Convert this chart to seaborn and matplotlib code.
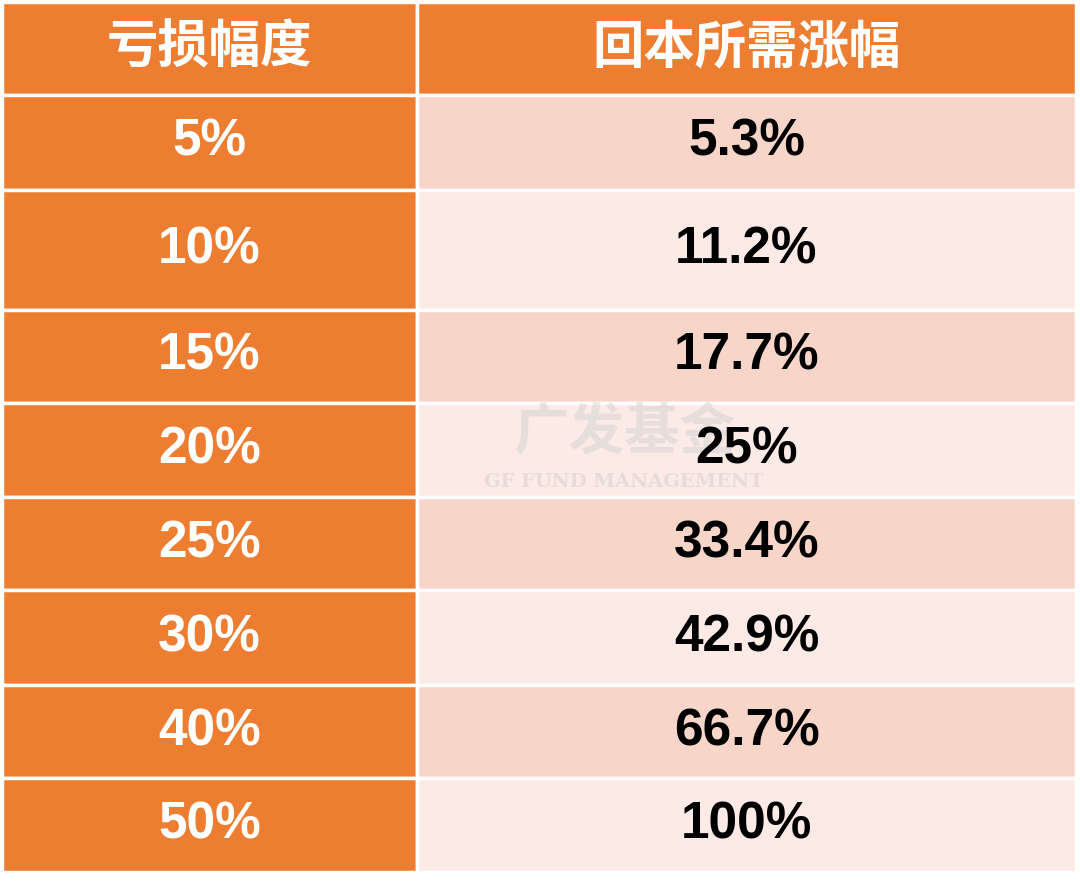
import matplotlib
matplotlib.use("Agg")
import matplotlib.pyplot as plt
import seaborn as sns

sns.set_theme(style="white")
plt.rcParams['font.family'] = ['Liberation Sans', 'Noto Sans CJK SC', 'DejaVu Sans']

headers = ["亏损幅度", "回本所需涨幅"]
losses = ["5%", "10%", "15%", "20%", "25%", "30%", "40%", "50%"]
gains = ["5.3%", "11.2%", "17.7%", "25%", "33.4%", "42.9%", "66.7%", "100%"]

# layout (pixels)
row_edges = [2, 95, 190, 310, 403, 497, 590, 685, 778, 872]
col_edges = [2, 417, 1076]
orange = "#ED7D31"
light = ["#F8D5C9", "#FBEAE6"]

fig = plt.figure(figsize=(10.8, 8.92), dpi=100)
ax = fig.add_axes([0, 0, 1, 1])
ax.set_xlim(0, 1080)
ax.set_ylim(892, 0)
ax.axis("off")

# watermark (behind text)
ax.text(625, 433, "广发基金", ha="center", va="center", fontsize=40,
        fontweight="bold", family="Noto Sans CJK SC", color="#d0d0d0",
        alpha=0.45, zorder=3)
ax.text(624, 482, "GF FUND MANAGEMENT", ha="center", va="center", fontsize=14,
        fontweight="bold", family="DejaVu Serif", color="#d0d0d0", alpha=0.5,
        zorder=3)

def cell(r, c, color, text, tcolor, size=37):
    y0, y1 = row_edges[r], row_edges[r + 1]
    x0, x1 = col_edges[c], col_edges[c + 1]
    ax.barh((y0 + y1) / 2, x1 - x0, height=y1 - y0, left=x0, color=color,
            edgecolor="white", linewidth=2.5, zorder=1)
    ax.text((x0 + x1) / 2, (y0 + y1) / 2, text, ha="center", va="center",
            fontsize=size, fontweight="bold", color=tcolor, zorder=4)

for c, h in enumerate(headers):
    cell(0, c, orange, h, "white", 37)
for i, (l, g) in enumerate(zip(losses, gains)):
    cell(i + 1, 0, orange, l, "white")
    cell(i + 1, 1, light[i % 2], g, "black")

fig.savefig("out.png", dpi=100)
